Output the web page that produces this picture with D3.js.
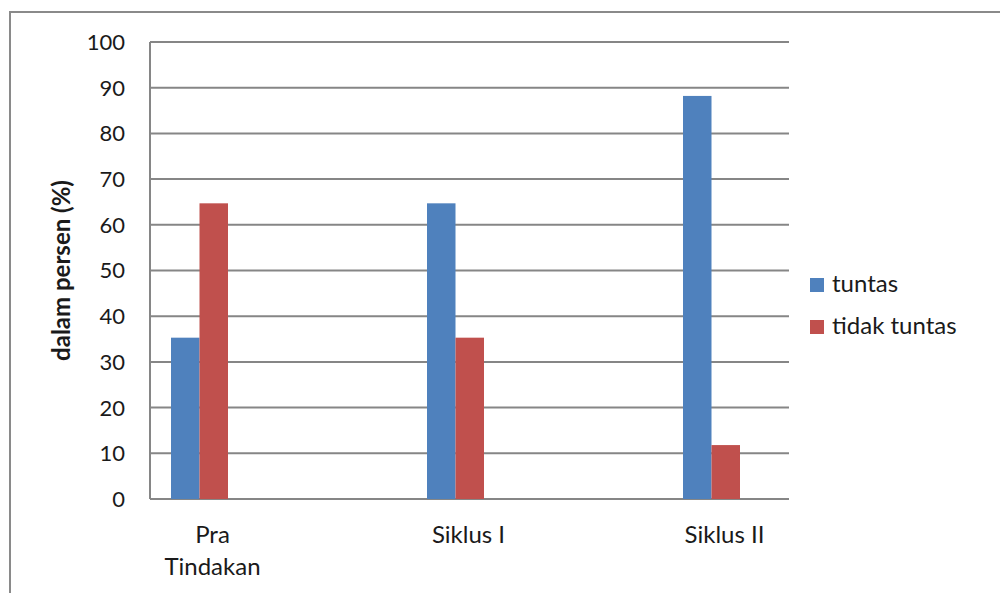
<!DOCTYPE html>
<html>
<head>
<meta charset="utf-8">
<script src="https://cdn.jsdelivr.net/npm/d3@7"></script>
<style>
  body { margin: 0; background: #fff; }
  text { font-family: Lato, "Open Sans", sans-serif; fill: #1a1a1a; }
</style>
</head>
<body>
<div id="chart"></div>
<script>
// data
const categories = ["Pra Tindakan", "Siklus I", "Siklus II"];
const categoryLines = [["Pra", "Tindakan"], ["Siklus I"], ["Siklus II"]];
const seriesNames = ["tuntas", "tidak tuntas"];
const tuntas = [35.3, 64.7, 88.2];
const tidakTuntas = [64.7, 35.3, 11.8];
const yTicks = [0, 10, 20, 30, 40, 50, 60, 70, 80, 90, 100];

const colors = ["#4F81BD", "#C0504D"];
const W = 1000, H = 593;

const svg = d3.select("#chart").append("svg")
    .attr("width", W).attr("height", H);

// outer chart frame
svg.append("rect")
    .attr("x", 10).attr("y", 12)
    .attr("width", W).attr("height", H)
    .attr("fill", "none").attr("stroke", "#8a8a8a").attr("stroke-width", 2);

const plot = {left: 150, right: 789, top: 42, bottom: 499};

const y = d3.scaleLinear().domain([0, 100]).range([plot.bottom, plot.top]);
const x = d3.scalePoint().domain(categories).range([199.5, 711.5]);
const barW = 28.5;

// gridlines
svg.append("g").selectAll("line")
    .data(yTicks)
    .join("line")
    .attr("x1", plot.left).attr("x2", plot.right)
    .attr("y1", d => y(d)).attr("y2", d => y(d))
    .attr("stroke", "#868686").attr("stroke-width", 2);

// y axis line
svg.append("line")
    .attr("x1", plot.left).attr("x2", plot.left)
    .attr("y1", y(100)).attr("y2", y(0))
    .attr("stroke", "#868686").attr("stroke-width", 2);

// y tick labels
svg.append("g").selectAll("text")
    .data(yTicks)
    .join("text")
    .attr("x", 125).attr("y", d => y(d))
    .attr("dy", "0.36em")
    .attr("text-anchor", "end")
    .style("font-size", "22px")
    .text(d => d);

// y axis title
svg.append("text")
    .attr("transform", `translate(70,${(plot.top + plot.bottom) / 2}) rotate(-90)`)
    .attr("text-anchor", "middle")
    .style("font-size", "24px").style("font-weight", "bold")
    .text("dalam persen (%)");

// bars
const series = [tuntas, tidakTuntas];
series.forEach((vals, si) => {
  svg.append("g").selectAll("rect")
      .data(vals)
      .join("rect")
      .attr("x", (d, i) => x(categories[i]) - barW + si * barW)
      .attr("y", d => y(d))
      .attr("width", barW)
      .attr("height", d => y(0) - y(d))
      .attr("fill", colors[si]);
});

// category labels
categories.forEach((c, i) => {
  const t = svg.append("text")
      .attr("text-anchor", "middle")
      .style("font-size", "24px");
  categoryLines[i].forEach((line, li) => {
    t.append("tspan")
        .attr("x", x(c) + 13)
        .attr("y", 543 + li * 32)
        .text(line);
  });
});

// legend
const legend = svg.append("g").attr("transform", "translate(810,278)");
seriesNames.forEach((n, i) => {
  legend.append("rect")
      .attr("x", 0).attr("y", i * 42)
      .attr("width", 14).attr("height", 14)
      .attr("fill", colors[i]);
  legend.append("text")
      .attr("x", 22).attr("y", i * 42 + 14)
      .style("font-size", "24px")
      .text(n);
});
</script>
</body>
</html>
